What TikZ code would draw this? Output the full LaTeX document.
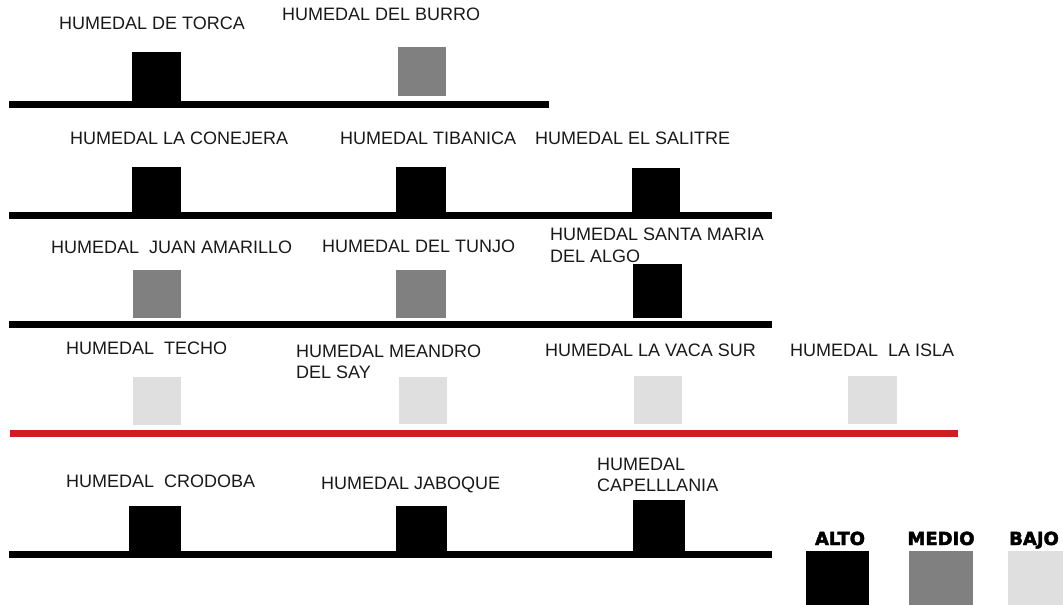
\documentclass[tikz,border=0pt]{standalone}
\usepackage{fontspec}
\setmainfont{Liberation Sans}
\newfontfamily\legendfont[FakeBold=2.5]{DejaVu Sans Bold}
\definecolor{altoc}{RGB}{0,0,0}
\definecolor{medioc}{RGB}{128,128,128}
\definecolor{bajoc}{RGB}{223,223,223}
\definecolor{redline}{RGB}{208,28,32}
\tikzset{
  lbl/.style={anchor=base west, inner sep=0pt, font=\fontsize{18}{21.5}\selectfont, text=black!90},
  leg/.style={anchor=base, inner sep=0pt, font=\legendfont\fontsize{18}{20}\selectfont},
  baseline/.style={line width=7pt, draw=black},
  redbase/.style={line width=7pt, draw=redline},
}
\begin{document}
\begin{tikzpicture}[x=1pt,y=-1pt]
\useasboundingbox (0,0) rectangle (1063,605);
% ---------- row 1
\node[lbl] (t11) at (59,29) {HUMEDAL DE TORCA};
\node[lbl] (t12) at (282,20) {HUMEDAL DEL BURRO};
\fill[altoc] (132,52) rectangle (181,101);
\fill[medioc] (398,47) rectangle (446,96);
\coordinate (l1a) at (9,104.5); \coordinate (l1b) at (549,104.5);
\draw[baseline] (l1a) -- (l1b);
% ---------- row 2
\node[lbl] (t21) at (70,144) {HUMEDAL LA CONEJERA};
\node[lbl] (t22) at (340,144) {HUMEDAL TIBANICA};
\node[lbl] (t23) at (535,144) {HUMEDAL EL SALITRE};
\fill[altoc] (132,167) rectangle (181,212);
\fill[altoc] (396,167) rectangle (446,212);
\fill[altoc] (632,168) rectangle (680,212);
\coordinate (l2a) at (9,215); \coordinate (l2b) at (772,215);
\draw[baseline] (l2a) -- (l2b);
% ---------- row 3
\node[lbl] (t31) at (51,253) {HUMEDAL\ \ JUAN AMARILLO};
\node[lbl] (t32) at (322,252) {HUMEDAL DEL TUNJO};
\node[lbl] (t33) at (550,240.5) {\begin{tabular}[t]{@{}l@{}}HUMEDAL SANTA MARIA\\DEL ALGO\end{tabular}};
\fill[medioc] (133,270) rectangle (181,318);
\fill[medioc] (396,270) rectangle (446,318);
\fill[altoc] (633,264) rectangle (682,318);
\coordinate (l3a) at (9,324); \coordinate (l3b) at (772,324);
\draw[baseline] (l3a) -- (l3b);
% ---------- row 4
\node[lbl] (t41) at (66,354) {HUMEDAL\ \ TECHO};
\node[lbl] (t42) at (296,357) {\begin{tabular}[t]{@{}l@{}}HUMEDAL MEANDRO\\DEL SAY\end{tabular}};
\node[lbl] (t43) at (545,356) {HUMEDAL LA VACA SUR};
\node[lbl] (t44) at (790,356) {HUMEDAL\ \ LA ISLA};
\fill[bajoc] (133,377) rectangle (181,425);
\fill[bajoc] (399,377) rectangle (447,424);
\fill[bajoc] (634,376) rectangle (682,424);
\fill[bajoc] (848,376) rectangle (897,424);
\coordinate (l4a) at (10,433); \coordinate (l4b) at (958,433);
\draw[redbase] (l4a) -- (l4b);
% ---------- row 5
\node[lbl] (t51) at (66,487) {HUMEDAL\ \ CRODOBA};
\node[lbl] (t52) at (321,489) {HUMEDAL JABOQUE};
\node[lbl] (t53) at (597,470) {\begin{tabular}[t]{@{}l@{}}HUMEDAL\\CAPELLLANIA\end{tabular}};
\fill[altoc] (129,506) rectangle (181,551);
\fill[altoc] (396,506) rectangle (447,551);
\fill[altoc] (633,500) rectangle (685,551);
\coordinate (l5a) at (9,554.5); \coordinate (l5b) at (772,554.5);
\draw[baseline] (l5a) -- (l5b);
% ---------- legend
\node[leg] (alto) at (840,545) {ALTO};
\node[leg] (medio) at (941,545) {MEDIO};
\node[leg, anchor=base west] (bajo) at (1009,545) {BAJO};
\fill[altoc] (806,551) rectangle (869,605);
\fill[medioc] (909,551) rectangle (973,605);
\fill[bajoc] (1008,551) rectangle (1063,605);
\end{tikzpicture}
\end{document}
